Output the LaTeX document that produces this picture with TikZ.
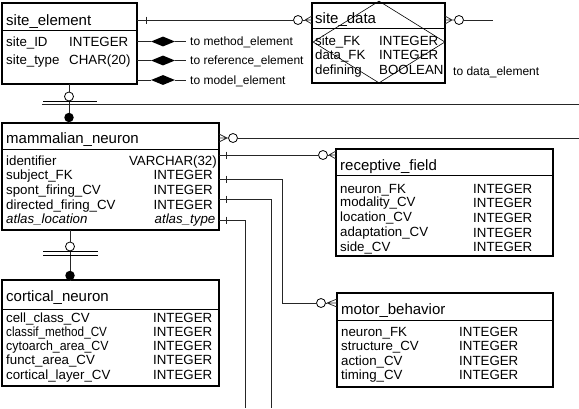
\documentclass[tikz,border=0pt]{standalone}
\usepackage{fontspec}
\usepackage{graphicx}
\setmainfont{Liberation Sans}
\usetikzlibrary{shapes.geometric}
\newcommand{\erTitle}{\fontsize{15}{18}\selectfont}
\newcommand{\erBody}{\fontsize{13.3}{16}\selectfont}
\newcommand{\erLabel}{\fontsize{12}{14}\selectfont}
\begin{document}
\begin{tikzpicture}[x=1pt,y=-1pt,
  entity/.style={draw, line width=1.2pt, anchor=north west, inner sep=0, outer sep=0},
  ttxt/.style={anchor=base west, inner sep=0, font=\erTitle},
  btxt/.style={anchor=base west, inner sep=0, font=\erBody},
  rtxt/.style={anchor=base east, inner sep=0, font=\erBody},
  ltxt/.style={anchor=base west, inner xsep=4pt, inner ysep=0, font=\erLabel},
  conn/.style={line width=0.7pt, black!85},
  sepline/.style={line width=1pt},
  ocirc/.style={circle, draw, line width=0.8pt, fill=white, minimum size=9pt, inner sep=0},
  fdot/.style={circle, fill, minimum size=9.5pt, inner sep=0},
  bdia/.style={diamond, fill, minimum width=24pt, minimum height=10pt, inner sep=0},
  reldia/.style={diamond, draw, line width=0.6pt, minimum width=132pt, minimum height=82pt, inner sep=0},
]
\useasboundingbox (0,0) rectangle (579,408);
\fill[white] (0,0) rectangle (579,408);

% ---------- entities ----------
\node[entity, minimum width=135pt, minimum height=81pt] (se) at (2,3) {};
\node[entity, minimum width=133pt, minimum height=80pt] (sd) at (312,3) {};
\node[entity, minimum width=217pt, minimum height=107pt] (mn) at (2,123) {};
\node[entity, minimum width=217pt, minimum height=107pt] (rf) at (336,149) {};
\node[entity, minimum width=217pt, minimum height=106pt] (cn) at (2,280) {};
\node[entity, minimum width=216pt, minimum height=94pt] (mb) at (337,293) {};

\draw[sepline] (se.west |- 0,30) -- (se.east |- 0,30);
\draw[sepline] (sd.west |- 0,28) -- (sd.east |- 0,28);
\draw[sepline] (mn.west |- 0,149) -- (mn.east |- 0,149);
\draw[sepline] (rf.west |- 0,175) -- (rf.east |- 0,175);
\draw[sepline] (cn.west |- 0,309) -- (cn.east |- 0,309);
\draw[sepline] (mb.west |- 0,320) -- (mb.east |- 0,320);

% relationship diamond over site_data
\node[reldia] (rel) at (379,42) {};

% ---------- texts ----------
\node[ttxt] (se-t) at (6,25) {site\_element};
\node[btxt] (se-a1) at (6,46.5) {site\_ID};
\node[btxt] (se-b1) at (69,46.5) {INTEGER};
\node[btxt] (se-a2) at (6,64) {site\_type};
\node[btxt] (se-b2) at (69,64) {CHAR(20)};

\node[ttxt] (sd-t) at (315,23) {site\_data};
\node[btxt] (sd-a1) at (315,45.5) {site\_FK};
\node[btxt] (sd-b1) at (379,45.5) {INTEGER};
\node[btxt] (sd-a2) at (315,59.5) {data\_FK};
\node[btxt] (sd-b2) at (379,59.5) {INTEGER};
\node[btxt] (sd-a3) at (315,74.5) {defining};
\node[btxt] (sd-b3) at (379,74.5) {BOOLEAN};
\node[ltxt] (lab4) at (449,75) {to data\_element};

\node[ttxt] (mn-t) at (6,143) {mammalian\_neuron};
\node[btxt] (mn-a1) at (6,165.7) {identifier};
\node[rtxt] (mn-b1) at (217,165.7) {VARCHAR(32)};
\node[btxt] (mn-a2) at (6,179.7) {subject\_FK};
\node[rtxt] (mn-b2) at (213,179.7) {INTEGER};
\node[btxt] (mn-a3) at (6,194.7) {spont\_firing\_CV};
\node[rtxt] (mn-b3) at (213,194.7) {INTEGER};
\node[btxt] (mn-a4) at (6,209.7) {directed\_firing\_CV};
\node[rtxt] (mn-b4) at (213,209.7) {INTEGER};
\node[btxt] (mn-a5) at (6,223) {\itshape atlas\_location};
\node[rtxt] (mn-b5) at (215.5,223) {\itshape atlas\_type};

\node[ttxt] (cn-t) at (6,301.5) {cortical\_neuron};
\node[btxt] (cn-a1) at (6,322) {cell\_class\_CV};
\node[rtxt] (cn-b1) at (212.5,322) {INTEGER};
\node[btxt] (cn-a2) at (6,336.5) {\scalebox{0.88}[1]{classif\_method\_CV}};
\node[rtxt] (cn-b2) at (212.5,336.5) {INTEGER};
\node[btxt] (cn-a3) at (6,350.7) {\scalebox{0.93}[1]{cytoarch\_area\_CV}};
\node[rtxt] (cn-b3) at (212.5,350.7) {INTEGER};
\node[btxt] (cn-a4) at (6,364.7) {funct\_area\_CV};
\node[rtxt] (cn-b4) at (212.5,364.7) {INTEGER};
\node[btxt] (cn-a5) at (6,379.7) {cortical\_layer\_CV};
\node[rtxt] (cn-b5) at (212.5,379.7) {INTEGER};

\node[ttxt] (rf-t) at (340,170) {receptive\_field};
\node[btxt] (rf-a1) at (340,193) {neuron\_FK};
\node[btxt] (rf-b1) at (473,193) {INTEGER};
\node[btxt] (rf-a2) at (340,206.5) {modality\_CV};
\node[btxt] (rf-b2) at (473,207) {INTEGER};
\node[btxt] (rf-a3) at (340,221.5) {location\_CV};
\node[btxt] (rf-b3) at (473,222) {INTEGER};
\node[btxt] (rf-a4) at (340,236.5) {adaptation\_CV};
\node[btxt] (rf-b4) at (473,237) {INTEGER};
\node[btxt] (rf-a5) at (340,251) {side\_CV};
\node[btxt] (rf-b5) at (473,251.5) {INTEGER};

\node[ttxt] (mb-t) at (341,314) {motor\_behavior};
\node[btxt] (mb-a1) at (341,336.4) {neuron\_FK};
\node[btxt] (mb-b1) at (459,336.4) {INTEGER};
\node[btxt] (mb-a2) at (341,350.7) {structure\_CV};
\node[btxt] (mb-b2) at (459,350.7) {INTEGER};
\node[btxt] (mb-a3) at (341,365.4) {action\_CV};
\node[btxt] (mb-b3) at (459,365.4) {INTEGER};
\node[btxt] (mb-a4) at (341,379.7) {timing\_CV};
\node[btxt] (mb-b4) at (459,379.7) {INTEGER};

% ---------- site_element aggregation links ----------
\node[bdia] (dm1) at (163,41.5) {};
\node[bdia] (dm2) at (163,60.5) {};
\node[bdia] (dm3) at (163,80) {};
\node[ltxt] (lab1) at (186,45) {to method\_element};
\node[ltxt] (lab2) at (186,64.5) {to reference\_element};
\node[ltxt] (lab3) at (186,84) {to model\_element};
\draw[conn] (se.east |- dm1) -- (dm1.west) (dm1.east) -- (lab1.west |- dm1);
\draw[conn] (se.east |- dm2) -- (dm2.west) (dm2.east) -- (lab2.west |- dm2);
\draw[conn] (se.east |- dm3) -- (dm3.west) (dm3.east) -- (lab3.west |- dm3);

% ---------- site_element -> site_data ----------
\node[ocirc] (c2) at (298,20) {};
\coordinate (v2) at (305,20);
\draw[conn] (se.east |- c2) -- (c2.west);
\draw[conn] (146,16.5) -- (146,23.5);
\draw[conn] (c2.east) -- (v2);
\draw[conn] (v2) -- (sd.west |- 0,16) (v2) -- (sd.west |- v2) (v2) -- (sd.west |- 0,24);

% ---------- site_data -> right ----------
\coordinate (v3) at (452,20);
\node[ocirc] (c3) at (459,20) {};
\coordinate (e3) at (493,20);
\draw[conn] (sd.east |- 0,16) -- (v3) (sd.east |- v3) -- (v3) (sd.east |- 0,24) -- (v3) -- (c3.west);
\draw[conn] (c3.east) -- (e3);

% ---------- subtype symbol 1 ----------
\node[ocirc] (s1c) at (69,96.5) {};
\node[fdot] (s1d) at (69,117.5) {};
\coordinate (s1e) at (579,104.5);
\draw[conn] (se.south -| s1c) -- (s1c.north);
\draw[conn] (s1c.south) -- (s1d.north);
\draw[conn] (s1d.south) -- (mn.north -| s1d);
\draw[line width=0.8pt] (43,101) -- (97,101);
\draw[line width=0.9pt, black!85] (42,104.5) -- (s1e);

% ---------- subtype symbol 2 ----------
\node[ocirc] (s2c) at (70,246.5) {};
\node[fdot] (s2d) at (70,275.5) {};
\draw[conn] (mn.south -| s2c) -- (s2c.north);
\draw[conn] (s2c.south) -- (s2d.north);
\draw[conn] (s2d.south) -- (cn.north -| s2d);
\draw[line width=0.8pt] (43,251) -- (98,251);
\draw[line width=0.8pt] (43,255.7) -- (98,255.7);

% ---------- mammalian_neuron header -> right ----------
\coordinate (v4) at (227,138);
\node[ocirc] (c4) at (233,138) {};
\coordinate (e4) at (579,138);
\draw[conn] (mn.east |- 0,134) -- (v4) (mn.east |- v4) -- (v4) (mn.east |- 0,142) -- (v4) -- (c4.west);
\draw[conn] (c4.east) -- (e4);

% ---------- identifier -> receptive_field ----------
\node[ocirc] (c5) at (323,155) {};
\coordinate (v5) at (329,155);
\draw[conn] (mn.east |- c5) -- (c5.west);
\draw[conn] (226,151.5) -- (226,158.5);
\draw[conn] (c5.east) -- (v5);
\draw[conn] (v5) -- (rf.west |- 0,151) (v5) -- (rf.west |- v5) (v5) -- (rf.west |- 0,159);

% ---------- subject_FK -> motor_behavior ----------
\coordinate (k6) at (282,179);
\node[ocirc] (c6) at (321,303) {};
\coordinate (v6) at (327,303);
\draw[conn] (mn.east |- k6) -- (k6) -- (k6 |- c6) -- (c6.west);
\draw[conn] (226,175.5) -- (226,182.5);
\draw[conn] (c6.east) -- (v6);
\draw[conn] (v6) -- (mb.west |- 0,299) (v6) -- (mb.west |- v6) (v6) -- (mb.west |- 0,307);

% ---------- directed_firing_CV -> down ----------
\coordinate (k7) at (271,199);
\coordinate (e7) at (271,408);
\draw[conn] (mn.east |- k7) -- (k7) -- (e7);
\draw[conn] (226,195.5) -- (226,202.5);

% ---------- atlas -> down ----------
\coordinate (k8) at (245,220);
\coordinate (e8) at (245,408);
\draw[conn] (mn.east |- k8) -- (k8) -- (e8);
\draw[conn] (226,216.5) -- (226,223.5);
\end{tikzpicture}
\end{document}
